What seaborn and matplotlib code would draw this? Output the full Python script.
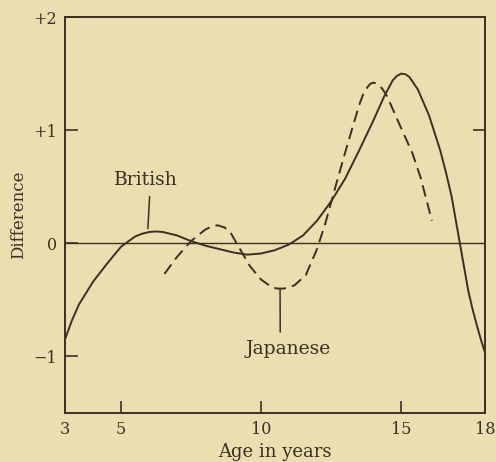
import numpy as np
import pandas as pd
import seaborn as sns
import matplotlib.pyplot as plt

# curves (age in years, difference)
british_age = [3.0, 3.25, 3.5, 4.0, 4.5, 5.0, 5.5, 5.75, 6.0, 6.25, 6.5, 7.0, 7.5, 8.0,
               8.5, 9.0, 9.5, 10.0, 10.5, 11.0, 11.5, 12.0, 12.5, 13.0, 13.5, 14.0, 14.4,
               14.7, 14.85, 15.0, 15.15, 15.3, 15.6, 16.0, 16.4, 16.6, 16.8, 17.1, 17.25,
               17.4, 17.55, 17.7, 17.85, 18.0]
british_diff = [-0.85, -0.68, -0.54, -0.34, -0.18, -0.03, 0.06, 0.085, 0.10, 0.105, 0.10,
                0.07, 0.02, -0.02, -0.05, -0.08, -0.10, -0.09, -0.06, -0.01, 0.07, 0.20,
                0.37, 0.57, 0.82, 1.08, 1.30, 1.44, 1.48, 1.50, 1.495, 1.47, 1.36, 1.13,
                0.82, 0.63, 0.42, 0.00, -0.21, -0.42, -0.58, -0.72, -0.85, -0.97]

japanese_age = [6.55, 7.0, 7.5, 8.0, 8.2, 8.45, 8.7, 8.9, 9.2, 9.6, 10.0, 10.4, 10.6, 10.8,
                11.0, 11.2, 11.6, 12.0, 12.3, 12.6, 13.0, 13.5, 13.65, 13.8, 13.9, 14.0,
                14.1, 14.2, 14.35, 14.5, 15.0, 15.4, 15.7, 16.1]
japanese_diff = [-0.27, -0.12, 0.02, 0.12, 0.145, 0.16, 0.14, 0.10, -0.03, -0.20, -0.32,
                 -0.39, -0.40, -0.40, -0.39, -0.37, -0.28, -0.05, 0.18, 0.45, 0.80, 1.22,
                 1.32, 1.38, 1.41, 1.42, 1.415, 1.40, 1.36, 1.30, 1.02, 0.80, 0.58, 0.20]

x_ticks = [3, 5, 10, 15, 18]
y_ticks = [-1, 0, 1, 2]
y_tick_labels = ["\u22121", "0", "+1", "+2"]

ink = "#3a3022"
paper = "#ebdfb1"

sns.set_theme(style="ticks")
plt.rcParams["font.family"] = ["DejaVu Serif"]
plt.rcParams["text.color"] = ink
plt.rcParams["axes.labelcolor"] = ink
plt.rcParams["xtick.color"] = ink
plt.rcParams["ytick.color"] = ink

fig = plt.figure(figsize=(4.96, 4.62), dpi=100, facecolor=paper)
ax = fig.add_axes([0.131, 0.106, 0.847, 0.857])
ax.set_facecolor(paper)

df_b = pd.DataFrame({"age": british_age, "diff": british_diff})
df_j = pd.DataFrame({"age": japanese_age, "diff": japanese_diff})

ax.axhline(0, color=ink, lw=1.0, zorder=1)
sns.lineplot(data=df_b, x="age", y="diff", ax=ax, color=ink, lw=1.4, sort=False)
sns.lineplot(data=df_j, x="age", y="diff", ax=ax, color=ink, lw=1.4, sort=False,
             linestyle=(0, (6, 3.2)))

ax.set_xlim(3, 18)
ax.set_ylim(-1.5, 2)
ax.set_xticks(x_ticks)
ax.set_yticks(y_ticks)
ax.set_yticklabels(y_tick_labels)
ax.tick_params(direction="in", length=9, width=1.2, labelsize=11.5, pad=6)

# single inner tick on the right frame at +1
sec = ax.secondary_yaxis("right")
sec.set_yticks([1])
sec.set_yticklabels([])
sec.tick_params(direction="in", length=9, width=1.2, color=ink)
sec.spines["right"].set_visible(False)

for s in ax.spines.values():
    s.set_color(ink)
    s.set_linewidth(1.4)

ax.set_xlabel("Age in years", fontsize=13, labelpad=3)
ax.set_ylabel("Difference", fontsize=12, labelpad=4)

ax.annotate("British", xy=(5.96, 0.13), xytext=(5.9, 0.56), ha="center", va="center",
            fontsize=13.5,
            arrowprops=dict(arrowstyle="-", color=ink, lw=1.1, relpos=(0.56, 0.0),
                            shrinkA=3, shrinkB=0))
ax.annotate("Japanese", xy=(10.68, -0.41), xytext=(10.96, -0.93), ha="center", va="center",
            fontsize=13.5,
            arrowprops=dict(arrowstyle="-", color=ink, lw=1.1, relpos=(0.41, 1.0),
                            shrinkA=3, shrinkB=0))

fig.savefig("out.png", dpi=100, facecolor=paper)
